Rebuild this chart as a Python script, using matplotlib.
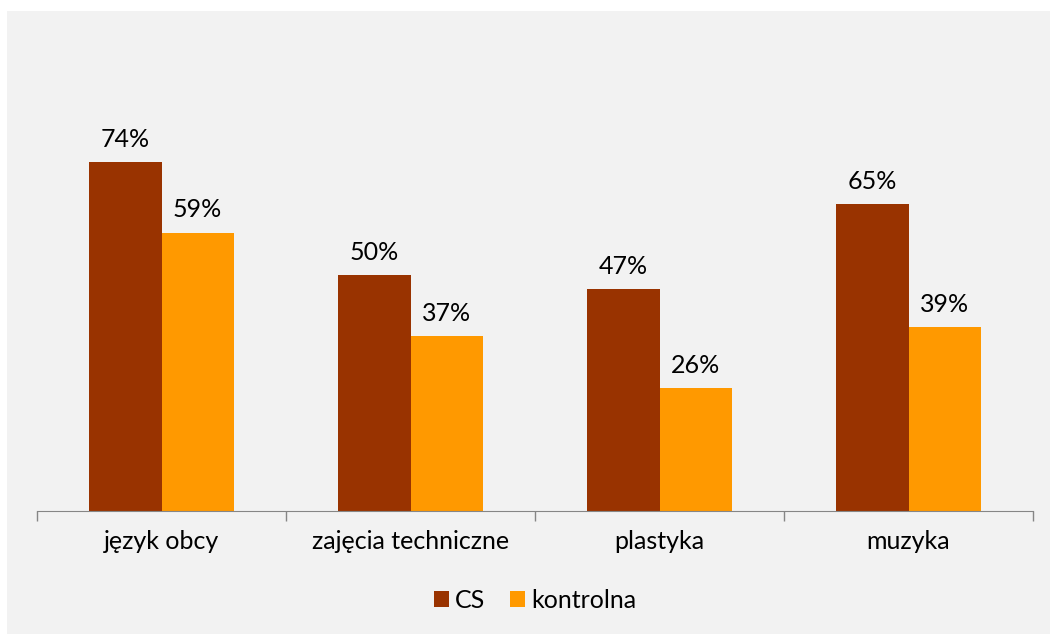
import matplotlib.pyplot as plt
import numpy as np
from matplotlib.patches import Rectangle

plt.rcParams['font.family'] = ['Lato', 'DejaVu Sans']

kategorie = ['język obcy', 'zajęcia techniczne', 'plastyka', 'muzyka']
cs = [74, 50, 47, 65]
kontrolna = [59, 37, 26, 39]

fig = plt.figure(figsize=(10.5, 6.34), dpi=100)
fig.patch.set_facecolor('white')
fig.patches.append(Rectangle((7 / 1050, 0), 1 - 7 / 1050, 1 - 11 / 634,
                             transform=fig.transFigure, facecolor='#f2f2f2',
                             edgecolor='none', zorder=-1))

ax = fig.add_axes([37 / 1050, 1 - 511 / 634, (1033 - 37) / 1050, (511 - 39) / 634])
ax.set_facecolor('none')

x = np.arange(len(kategorie))
w = 0.29
b1 = ax.bar(x - w / 2, cs, w, color='#993300', label='CS')
b2 = ax.bar(x + w / 2, kontrolna, w, color='#ff9900', label='kontrolna')

for bars in (b1, b2):
    for b in bars:
        ax.annotate(f'{b.get_height():.0f}%', (b.get_x() + b.get_width() / 2, b.get_height()),
                    xytext=(0, 8), textcoords='offset points', ha='center', va='bottom',
                    fontsize=18)

ax.set_xlim(-0.5, 3.5)
ax.set_ylim(0, 100)
ax.set_yticks([])
for s in ['top', 'right', 'left']:
    ax.spines[s].set_visible(False)
ax.spines['bottom'].set_color('#868686')

ax.set_xticks(np.arange(-0.5, 4, 1))
ax.set_xticklabels([])
ax.set_xticks(x, minor=True)
ax.set_xticklabels(kategorie, minor=True, fontsize=18)
ax.tick_params(axis='x', which='major', length=7, color='#868686', width=1)
ax.tick_params(axis='x', which='minor', length=0, pad=14)

ax.legend(loc='center', bbox_to_anchor=(0.5, -0.19), ncol=2, frameon=False,
          fontsize=18, handlelength=0.6, handleheight=0.6, handletextpad=0.25,
          columnspacing=1.0)

fig.savefig('out.png', dpi=100)
